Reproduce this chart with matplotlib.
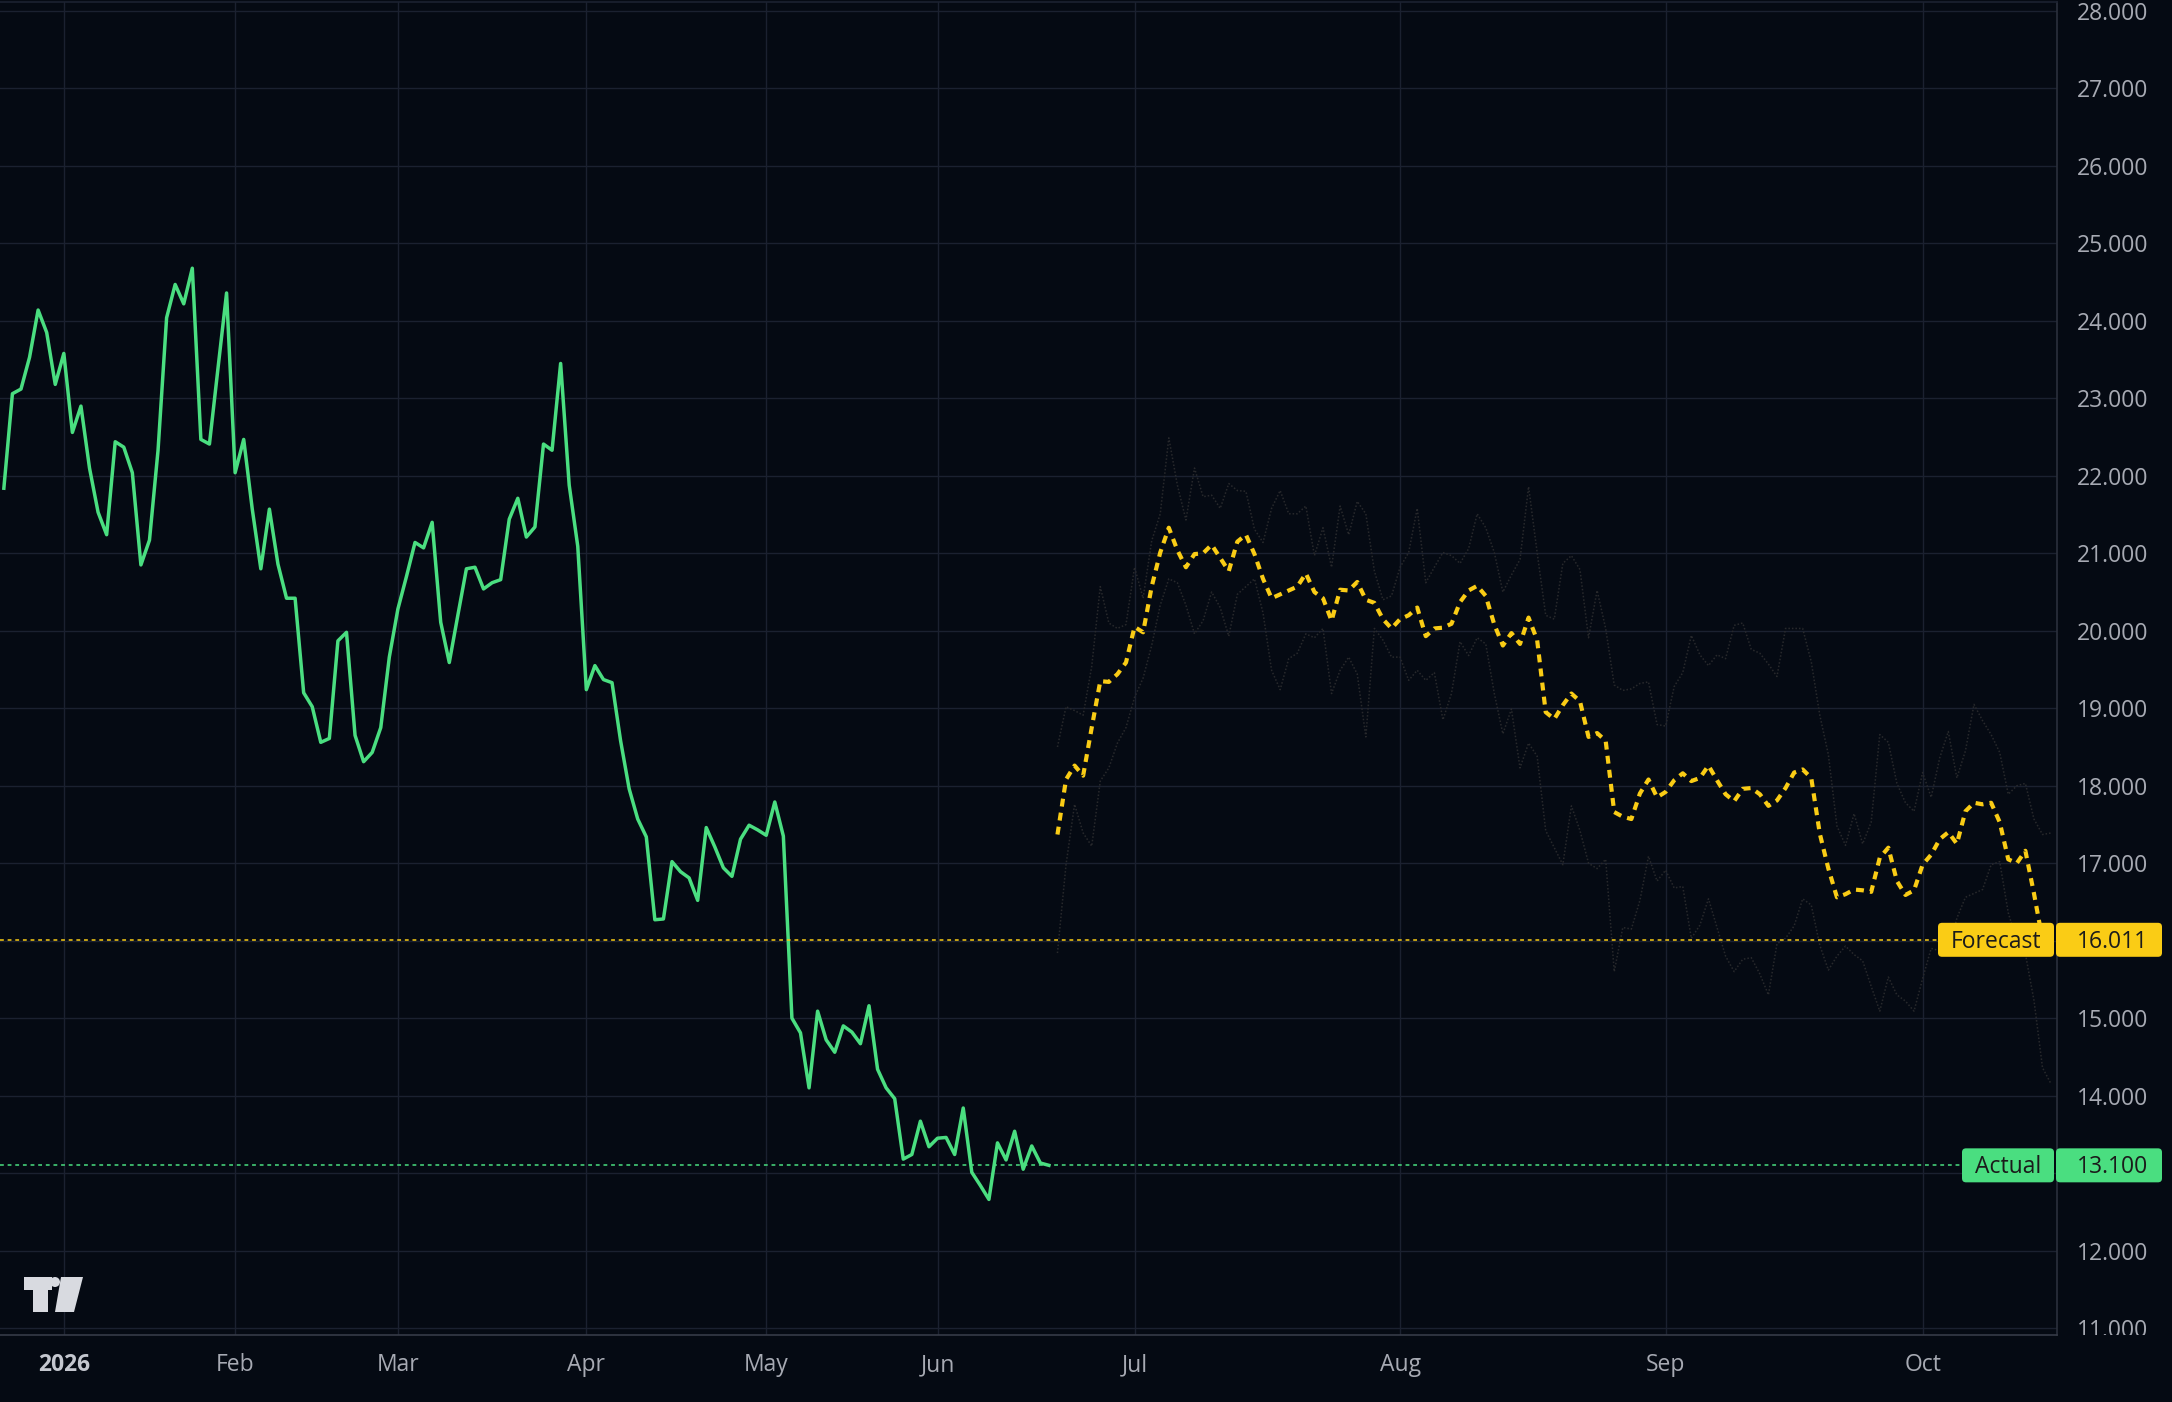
import matplotlib
matplotlib.use("Agg")
import matplotlib.pyplot as plt
from matplotlib.patches import FancyBboxPatch, Rectangle, Circle, Polygon
from matplotlib.transforms import IdentityTransform, Bbox, TransformedBbox

plt.rcParams['font.family'] = ['Open Sans', 'DejaVu Sans']

# bar index 0 = last days of Dec 2025, trading days up to Jun 18, then daily forecast
history = [21.84, 23.06, 23.12, 23.53, 24.14, 23.85, 23.18, 23.58, 22.56, 22.90,
           22.10, 21.53, 21.24, 22.44, 22.37, 22.04, 20.85, 21.17, 22.33, 24.04,
           24.47, 24.22, 24.68, 22.47, 22.41, 23.39, 24.36, 22.04, 22.47, 21.57,
           20.80, 21.57, 20.86, 20.42, 20.42, 19.20, 19.02, 18.56, 18.61, 19.87,
           19.98, 18.65, 18.31, 18.43, 18.75, 19.66, 20.28, 20.70, 21.14, 21.07,
           21.40, 20.11, 19.59, 20.20, 20.80, 20.82, 20.54, 20.62, 20.66, 21.44,
           21.71, 21.21, 21.34, 22.41, 22.33, 23.45, 21.88, 21.09, 19.24, 19.55,
           19.37, 19.33, 18.58, 17.96, 17.57, 17.34, 16.27, 16.28, 17.02, 16.89,
           16.81, 16.52, 17.46, 17.21, 16.94, 16.83, 17.31, 17.49, 17.43, 17.36,
           17.79, 17.35, 15.00, 14.81, 14.10, 15.09, 14.72, 14.56, 14.90, 14.82,
           14.67, 15.16, 14.34, 14.10, 13.96, 13.18, 13.24, 13.67, 13.34, 13.45,
           13.46, 13.24, 13.84, 13.01, 12.84, 12.66, 13.39, 13.17, 13.54, 13.05,
           13.35, 13.13, 13.10]

forecast = [17.37, 18.08, 18.26, 18.13, 18.75, 19.35, 19.34, 19.44, 19.59, 20.05,
            19.98, 20.57, 21.01, 21.33, 21.04, 20.82, 20.99, 21.00, 21.11, 20.94,
            20.77, 21.15, 21.24, 20.99, 20.67, 20.42, 20.47, 20.52, 20.57, 20.74,
            20.50, 20.42, 20.13, 20.53, 20.52, 20.63, 20.40, 20.36, 20.15, 20.03,
            20.15, 20.20, 20.30, 19.93, 20.03, 20.04, 20.09, 20.37, 20.52, 20.58,
            20.45, 20.08, 19.81, 19.97, 19.83, 20.17, 19.88, 18.95, 18.86, 19.04,
            19.19, 19.09, 18.63, 18.68, 18.58, 17.66, 17.60, 17.57, 17.90, 18.08,
            17.85, 17.92, 18.07, 18.16, 18.06, 18.10, 18.26, 18.07, 17.89, 17.80,
            17.96, 17.97, 17.89, 17.74, 17.81, 17.97, 18.17, 18.21, 18.10, 17.38,
            16.93, 16.56, 16.60, 16.66, 16.65, 16.63, 17.07, 17.20, 16.77, 16.59,
            16.65, 16.98, 17.11, 17.31, 17.40, 17.25, 17.67, 17.78, 17.76, 17.78,
            17.53, 17.05, 17.00, 17.16, 16.61, 16.011]

upper_band = [18.50, 19.02, 18.97, 18.91, 19.54, 20.57, 20.10, 20.03, 20.08, 20.82,
              20.42, 21.16, 21.51, 22.49, 21.88, 21.43, 22.10, 21.73, 21.75, 21.58,
              21.90, 21.81, 21.80, 21.31, 21.14, 21.58, 21.81, 21.51, 21.51, 21.61,
              20.97, 21.33, 20.82, 21.61, 21.24, 21.67, 21.51, 20.77, 20.40, 20.45,
              20.82, 21.01, 21.58, 20.62, 20.82, 21.01, 20.97, 20.87, 21.06, 21.51,
              21.33, 21.01, 20.50, 20.72, 20.92, 21.86, 21.01, 20.20, 20.15, 20.87,
              20.97, 20.79, 19.91, 20.52, 20.03, 19.30, 19.23, 19.25, 19.32, 19.34,
              18.79, 18.77, 19.28, 19.46, 19.94, 19.69, 19.55, 19.69, 19.64, 20.07,
              20.10, 19.76, 19.71, 19.57, 19.41, 20.03, 20.03, 20.03, 19.60, 18.91,
              18.40, 17.48, 17.23, 17.64, 17.25, 17.53, 18.66, 18.56, 18.03, 17.78,
              17.67, 18.17, 17.85, 18.36, 18.70, 18.10, 18.45, 19.05, 18.84, 18.66,
              18.43, 17.89, 18.00, 18.03, 17.57, 17.37, 17.39]

lower_band = [15.84, 16.98, 17.76, 17.39, 17.22, 18.06, 18.23, 18.55, 18.75, 19.14,
              19.39, 19.81, 20.33, 20.67, 20.62, 20.33, 19.96, 20.13, 20.50, 20.30,
              19.93, 20.47, 20.57, 20.67, 20.23, 19.49, 19.24, 19.64, 19.71, 19.96,
              19.91, 20.03, 19.19, 19.49, 19.66, 19.44, 18.63, 20.03, 19.88, 19.66,
              19.66, 19.36, 19.49, 19.36, 19.46, 18.85, 19.19, 19.86, 19.68, 19.91,
              19.83, 19.19, 18.67, 18.99, 18.23, 18.55, 18.38, 17.42, 17.20, 16.98,
              17.74, 17.42, 17.00, 16.93, 17.05, 15.60, 16.17, 16.15, 16.52, 17.09,
              16.77, 16.91, 16.68, 16.70, 16.03, 16.20, 16.54, 16.17, 15.80, 15.60,
              15.76, 15.78, 15.57, 15.30, 15.96, 16.03, 16.19, 16.54, 16.46, 15.94,
              15.62, 15.80, 15.93, 15.82, 15.74, 15.41, 15.09, 15.53, 15.30, 15.22,
              15.09, 15.51, 15.90, 15.87, 15.83, 16.29, 16.56, 16.61, 16.66, 16.98,
              17.02, 16.36, 15.99, 15.83, 15.23, 14.36, 14.15]

month_labels = ['2026', 'Feb', 'Mar', 'Apr', 'May', 'Jun', 'Jul', 'Aug', 'Sep', 'Oct']
month_bars = [7, 27, 46, 68, 89, 109, 132, 163, 194, 224]
price_ticks = list(range(11, 29))

actual_last = history[-1]
forecast_last = forecast[-1]

W, H = 2172, 1402
BG = '#050a13'
GRID = '#1b2130'
GREEN = '#4ade80'
YELLOW = '#facc15'
TXT = '#a7aab3'

fig = plt.figure(figsize=(W / 100, H / 100), dpi=100, facecolor=BG)
ax = fig.add_axes([0, 1 - 1335 / H, 2057 / W, 1333 / H], facecolor=BG)

hist_x = list(range(len(history)))
fc_start = len(history)
fc_x = list(range(fc_start, fc_start + len(forecast)))
band_x = list(range(fc_start, fc_start + len(upper_band)))

ax.plot(band_x, upper_band, color='#28292c', lw=1.1, ls=(0, (1, 1.3)))
ax.plot(band_x, lower_band, color='#28292c', lw=1.1, ls=(0, (1, 1.3)))
ax.plot(hist_x, history, color=GREEN, lw=2.5)
ax.plot(fc_x, forecast, color=YELLOW, lw=3.0, ls=(0, (1.9, 1.5)))

ax.axhline(forecast_last, xmax=1937 / 2057, color=YELLOW, lw=1.1, ls=(0, (2.5, 2.5)))
ax.axhline(actual_last, xmax=1961 / 2057, color=GREEN, lw=1.1, ls=(0, (2.5, 2.5)))

ax.set_xlim(-0.45, 239.69)
ax.set_ylim(10.91, 28.116)

ax.set_xticks(month_bars)
ax.set_xticklabels(month_labels)
ax.set_yticks(price_ticks)
# price labels hidden behind the two tags
covered = [round(forecast_last), round(actual_last)]
ax.set_yticklabels(['' if v in covered else f'{v:.3f}' for v in price_ticks])
ax.yaxis.tick_right()
ax.grid(True, color=GRID, lw=1.0)
ax.set_axisbelow(True)
ax.tick_params(axis='y', length=0, pad=14.4, labelsize=16.5, labelcolor=TXT)
ax.tick_params(axis='x', length=0, pad=13, labelsize=16.5, labelcolor=TXT)
xl = ax.get_xticklabels()
xl[0].set_fontweight('bold')
xl[0].set_color('#c4c7cf')

ax.spines['left'].set_visible(False)
ax.spines['right'].set_color('#2b303c')
ax.spines['bottom'].set_color('#363b47')
ax.spines['top'].set_color(GRID)
for side in ['right', 'bottom', 'top']:
    ax.spines[side].set_linewidth(1.2)

# price axis labels are clipped at the time axis
clip = TransformedBbox(Bbox.from_extents(0, (H - 1335) / H, 1, 1), fig.transFigure)
for lbl in ax.get_yticklabels():
    lbl.set_clip_on(True)
    lbl.set_clip_box(clip)

# label boxes on the price axis
ident = IdentityTransform()


def price_tag(value, name, color, name_x0):
    yc = ax.transData.transform((0, value))[1]
    fig.add_artist(FancyBboxPatch((name_x0, yc - 17), 2054 - name_x0, 34,
                                  boxstyle='round,pad=0,rounding_size=4',
                                  transform=ident, fc=color, ec='none'))
    fig.add_artist(FancyBboxPatch((2056, yc - 17), 106, 34,
                                  boxstyle='round,pad=0,rounding_size=4',
                                  transform=ident, fc=color, ec='none'))
    fig.text((name_x0 + 2054) / 2, yc - 8, name, transform=ident, ha='center',
             va='baseline', fontsize=16.5, color='#1b1b1b')
    fig.text(2148, yc - 8, f'{value:.3f}', transform=ident, ha='right',
             va='baseline', fontsize=16.5, color='#1b1b1b')


price_tag(forecast_last, 'Forecast', YELLOW, 1938)
price_tag(actual_last, 'Actual', GREEN, 1962)

# TradingView logo
LOGO = '#d8dae0'
fig.add_artist(Rectangle((23.5, H - 1290), 28, 13, transform=ident, fc=LOGO, ec='none'))
fig.add_artist(Rectangle((33, H - 1312), 15, 35, transform=ident, fc=LOGO, ec='none'))
fig.add_artist(Circle((55, H - 1282), 5, transform=ident, fc=LOGO, ec='none'))
fig.add_artist(Polygon([(61, H - 1277), (83, H - 1277), (74, H - 1312), (55, H - 1312)],
                       closed=True, transform=ident, fc=LOGO, ec='none'))

fig.savefig('out.png', dpi=100, facecolor=BG)
